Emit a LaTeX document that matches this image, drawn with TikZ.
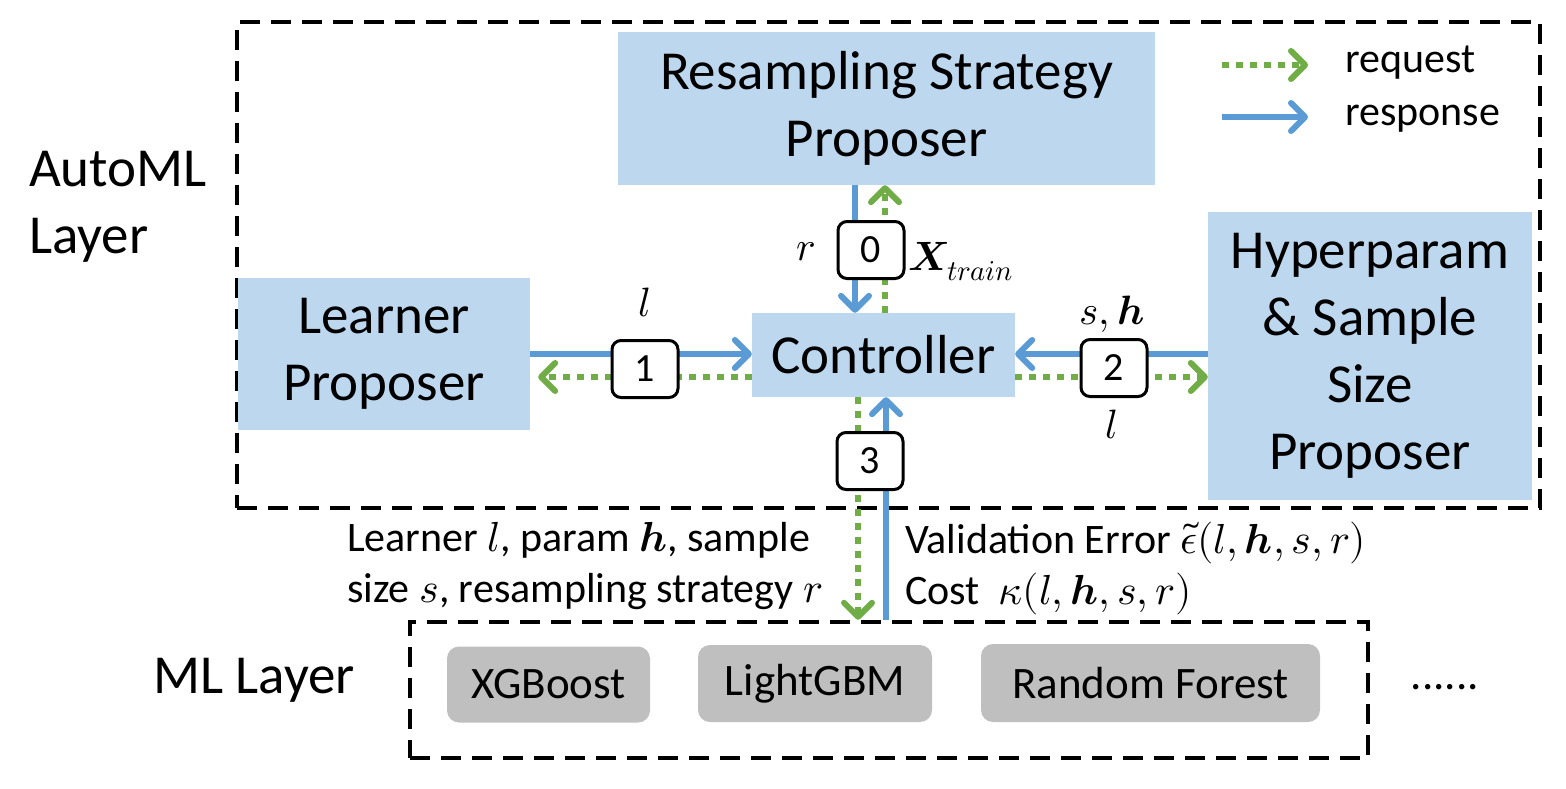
\documentclass[tikz,border=0pt]{standalone}
\usepackage{amsmath}
\usepackage{fontspec}
\usepackage{unicode-math}
\setmainfont{Carlito}
\setmathfont{Latin Modern Math}
\usetikzlibrary{arrows.meta,calc}
\definecolor{boxblue}{HTML}{BDD7EE}
\definecolor{lineblue}{HTML}{5B9BD5}
\definecolor{linegreen}{HTML}{70AD47}
\definecolor{mlgray}{HTML}{BFBFBF}
\newcommand\fbig{\fontsize{55}{67}\selectfont}
\newcommand\fmid{\fontsize{42}{51}\selectfont}
\newcommand\fmath{\fontsize{41}{51}\selectfont}
\newcommand\fnum{\fontsize{40}{44}\selectfont}
\newcommand\fleg{\fontsize{42}{44}\selectfont}
\newcommand\fgray{\fontsize{45}{50}\selectfont}
\tikzset{
  x=1pt, y=-1pt,
  bluebox/.style={fill=boxblue, draw=none, align=center, inner sep=0pt, font=\fbig},
  graybox/.style={fill=mlgray, draw=none, rounded corners=12pt, inner sep=0pt, font=\fgray},
  numbox/.style={draw=black, line width=3pt, rounded corners=9pt, fill=white,
    minimum width=66pt, minimum height=57pt, inner sep=0pt, font=\fnum},
  layerbox/.style={draw=black, line width=4.5pt, dash pattern=on 20pt off 11pt, fill=none},
  tipr/.style={-{Straight Barb[length=14pt,width=28pt,round]}},
  resp/.style={draw=lineblue, line width=6pt, tipr},
  req/.style={draw=linegreen, line width=6pt, dash pattern=on 7pt off 7pt, tipr},
  lbl/.style={inner sep=0pt, font=\fmath},
  txt/.style={inner sep=0pt, font=\fmid, anchor=north west, align=left},
}
\begin{document}
\begin{tikzpicture}
\useasboundingbox (0,0) rectangle (1566,788);
% layers
\node[layerbox, minimum width=1303pt, minimum height=486pt] (auto) at (888.5,265) {};
\node[layerbox, minimum width=958pt, minimum height=136pt] (ml) at (889,690) {};
\node[inner sep=0pt, align=left, font=\fbig] (autolbl) at (118,207) {AutoML\\Layer};
\node[inner sep=0pt, font=\fbig] (mllbl) at (254,680) {ML Layer};
% blue boxes
\node[bluebox, minimum width=537pt, minimum height=153pt] (res) at (886.5,108.5) {Resampling Strategy\\Proposer};
\node[bluebox, minimum width=292pt, minimum height=152pt] (lrn) at (384,354) {Learner\\Proposer};
\node[bluebox, minimum width=263pt, minimum height=84pt] (ctrl) at (883.5,355) {Controller};
\node[bluebox, minimum width=324pt, minimum height=288pt] (hyp) at (1370,356) {Hyperparam\\\& Sample\\Size\\Proposer};
% gray boxes
\node[graybox, minimum width=203pt, minimum height=76pt] (xgb) at (548.5,684.5) {XGBoost};
\node[graybox, minimum width=234pt, minimum height=77pt] (lgb) at (815,683.5) {LightGBM};
\node[graybox, minimum width=339pt, minimum height=78pt] (rf) at (1150.5,683) {Random Forest};
\node[inner sep=0pt, font=\fgray] (dots) at (1445,687) {......};
% legend
\coordinate (lg1a) at (1222,65);
\coordinate (lg1b) at (1308,65);
\coordinate (lg2a) at (1222,117);
\coordinate (lg2b) at (1308,117);
\draw[req] (lg1a) -- (lg1b);
\draw[resp] (lg2a) -- (lg2b);
\node[inner sep=0pt, anchor=west, font=\fleg] (reqlbl) at (1345,63) {request};
\node[inner sep=0pt, anchor=west, font=\fleg] (resplbl) at (1345,119) {response};
% connectors 0
\draw[resp] ([xshift=-31.5pt]res.south) -- ([xshift=-28.5pt]ctrl.north);
\draw[req] ([xshift=1.5pt]ctrl.north) -- ([xshift=-1.5pt]res.south);
% connectors 1
\draw[resp] (lrn.east) -- ([yshift=1pt]ctrl.west);
\draw[req, shorten >=8pt] ([yshift=-22pt]ctrl.west) -- ([yshift=-23pt]lrn.east);
% connectors 2
\draw[resp] ([yshift=2pt]hyp.west) -- ([yshift=1pt]ctrl.east);
\draw[req] ([yshift=-22pt]ctrl.east) -- ([yshift=-21pt]hyp.west);
% connectors 3
\draw[req] ([xshift=-25.5pt]ctrl.south) -- ([xshift=-31pt]ml.north);
\draw[resp] ([xshift=-3pt]ml.north) -- ([xshift=2.5pt]ctrl.south);
% number boxes
\node[numbox] (n0) at (871,250) {0};
\node[numbox] (n1) at (645,369) {1};
\node[numbox] (n2) at (1114,368) {2};
\node[numbox] (n3) at (870,461) {3};
% labels
\node[lbl] (lr) at (806,252) {$r$};
\node[lbl, anchor=west] (lx) at (908,262) {$\symbfit{X}_{\scriptstyle train}$};
\node[lbl] (ll1) at (645,302) {$l$};
\node[lbl] (lsh) at (1112,314) {$s,\symbfit{h}$};
\node[lbl] (ll2) at (1112,424) {$l$};
\node[txt] (lreq) at (347,522) {Learner $l$, param $\symbfit{h}$, sample\\size $s$, resampling strategy $r$};
\node[txt] (lresp) at (905,522) {Validation Error $\tilde{\epsilon}(l,\symbfit{h},s,r)$\\Cost~~$\kappa(l,\symbfit{h},s,r)$};
\end{tikzpicture}
\end{document}
